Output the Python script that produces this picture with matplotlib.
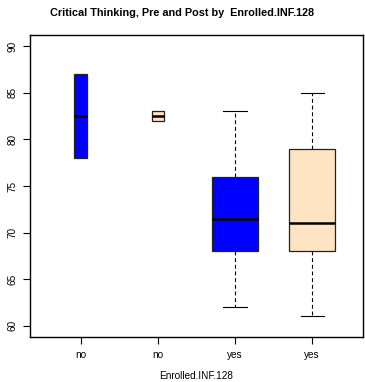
import matplotlib
matplotlib.use("Agg")
import matplotlib.pyplot as plt

plt.rcParams['font.family'] = ['Liberation Sans', 'DejaVu Sans']

# Data (five-number summaries)
labels = ["no", "no", "yes", "yes"]
whislo = [78, 82, 62, 61]
q1 = [78, 82, 68, 68]
med = [82.5, 82.5, 71.5, 71]
q3 = [87, 83, 76, 79]
whishi = [87, 83, 83, 85]
widths = [0.167, 0.167, 0.6, 0.6]
colors = ["#0000FF", "#FFE4C4", "#0000FF", "#FFE4C4"]
yticks = [60, 65, 70, 75, 80, 85, 90]

fig = plt.figure(figsize=(3.65, 3.82), dpi=100)
ax = fig.add_axes([30/365, 1-337/382, 333/365, 302/382])

stats = []
for i in range(len(labels)):
    stats.append(dict(whislo=whislo[i], q1=q1[i], med=med[i], q3=q3[i],
                      whishi=whishi[i], fliers=[], label=labels[i]))

bp = ax.bxp(stats, positions=[1, 2, 3, 4], widths=widths, patch_artist=True,
            showfliers=False, capwidths=[w/2 for w in widths],
            boxprops=dict(linewidth=0.9, edgecolor="#222222"),
            medianprops=dict(color="black", linewidth=1.8),
            whiskerprops=dict(color="black", linewidth=0.8, linestyle=(0, (3.5, 2.5))),
            capprops=dict(color="black", linewidth=0.8))
for patch, c in zip(bp['boxes'], colors):
    patch.set_facecolor(c)
# hide zero-length whiskers/caps for small groups
for i in range(len(labels)):
    if whislo[i] == q1[i] and whishi[i] == q3[i]:
        for k in (2*i, 2*i+1):
            bp['whiskers'][k].set_visible(False)
            bp['caps'][k].set_visible(False)

ax.set_xlim(0.34, 4.66)
ax.set_ylim(58.8, 91.2)
ax.set_yticks(yticks)
ax.set_yticklabels([str(v) for v in yticks], rotation=90, va='center', fontsize=7.2)
ax.set_xticks([1, 2, 3, 4])
ax.set_xticklabels(labels, fontsize=7.2)
ax.tick_params(direction='out', length=5, width=0.8, pad=4)
for s in ax.spines.values():
    s.set_linewidth(1.0)
ax.set_xlabel("Enrolled.INF.128", fontsize=7.2, labelpad=8)
fig.text(0.5, 1-13/382, "Critical Thinking, Pre and Post by  Enrolled.INF.128",
         ha='center', va='center', fontsize=7.8, fontweight='bold')

fig.savefig("out.png", dpi=100)
